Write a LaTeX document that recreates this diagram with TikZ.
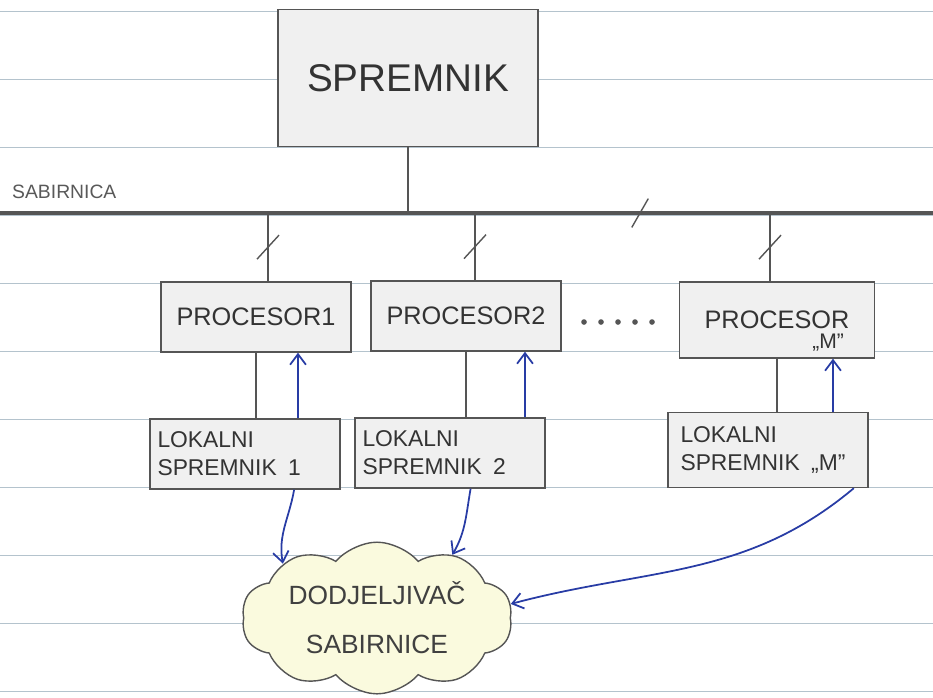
\documentclass[tikz,border=0pt]{standalone}
\usepackage{fontspec}
\setsansfont{Liberation Sans}
\usepackage{tikz}
\usetikzlibrary{shapes,shapes.symbols,arrows,arrows.meta,positioning}
\definecolor{olovka}{RGB}{85,85,85}
\definecolor{plava}{RGB}{40,60,165}
\definecolor{papir}{RGB}{180,195,205}
\definecolor{zuta}{RGB}{250,250,222}
\tikzset{
  blok/.style = {draw=olovka, fill=gray!12, thick, text=black!80,
    inner sep=2pt, font=\sffamily},
  blok_s/.style = {blok, minimum width=5.2cm, minimum height=2.74cm,
    font=\sffamily\fontsize{22}{26}\selectfont},% glavni spremnik
  blok_p/.style = {blok, minimum width=3.8cm, minimum height=1.4cm,
    font=\sffamily\Large},% procesor
  blok_l/.style = {blok, minimum width=3.8cm, minimum height=1.4cm,
    text width=3.5cm, align=left,
    font=\sffamily\fontsize{13}{16}\selectfont},% lokalni spremnik
  oblak/.style = {cloud, cloud puffs=10, cloud puff arc=100,
    cloud ignores aspect, draw=olovka, fill=zuta, thick,
    minimum width=5.4cm, minimum height=2.55cm, align=center,
    text=black!75, font=\sffamily\fontsize{15}{28}\selectfont},% dodjeljivac
  veza/.style = {draw=olovka, thick},
  sab/.style = {draw=olovka, line width=2.8pt},
  strel/.style = {->, draw=plava, line width=1pt},
  crtica/.pic = {\draw[olovka, thick] (-0.22cm,-0.24cm) -- (0.22cm,0.24cm);}
}
\begin{document}
\begin{tikzpicture}[x=0.02cm, y=-0.02cm, >={Straight Barb[length=6pt,width=9pt]}]
  \useasboundingbox (0,0) rectangle (933,697);
  % crte u biljeznici
  \foreach \y in {11,79,...,691}
    \draw[papir, thin] (0,\y) -- (933,\y);

  \node[blok_s] (spr) at (408,78) {SPREMNIK};

  % sabirnica
  \coordinate (busL) at (0,213);
  \coordinate (busR) at (933,213);
  \draw[sab] (busL) -- (busR);
  \node[anchor=south west, font=\sffamily\fontsize{11}{13}\selectfont,
    text=black!65] (sabl) at (6,205) {SABIRNICA};
  \path (busL) -- (busR) pic[pos=0.686, xscale=0.75, yscale=1.2]{crtica};
  \draw[veza] (spr.south) -- (spr.south |- busL);

  % procesori
  \node[blok_p] (pro1) at (256,317) {PROCESOR1};
  \node[blok_p] (pro2) at (466,316) {PROCESOR2};
  \node[blok_p, minimum width=3.9cm, minimum height=1.52cm,
    label={[font=\sffamily\large, text=black!80, anchor=south east,
      xshift=-0.5cm, yshift=1pt]south east:„M”}] (proM) at (777,320) {PROCESOR};
  \foreach \i in {0,...,4}
    \fill[olovka] (584+17*\i,322) circle (1.6pt);

  \foreach \p/\dx in {pro1/0.24cm, pro2/0.18cm, proM/-0.14cm} {
    \coordinate (d\p) at ([xshift=\dx]\p.north);
    \draw[veza] (d\p) -- (d\p |- busL) pic[pos=0.5]{crtica};
  }

  % lokalni spremnici
  \node[blok_l] (lok1) at (245,454) {LOKALNI\\SPREMNIK\enspace 1};
  \node[blok_l] (lok2) at (450,453) {LOKALNI\\SPREMNIK\enspace 2};
  \node[blok_l, minimum width=4cm, minimum height=1.5cm] (lokM) at (768,450)
    {LOKALNI\\SPREMNIK\enspace „M”};

  \foreach \n in {1,2,M}
    \draw[veza] (pro\n.south) -- (pro\n.south |- lok\n.north);
  \foreach \n/\dx in {1/1.06cm, 2/1.5cm, M/1.3cm} {
    \coordinate (a\n) at ([xshift=\dx]lok\n.north);
    \draw[strel] (a\n) -- (a\n |- pro\n.south);
  }

  % dodjeljivac sabirnice
  \node[oblak] (dod) at (377,618) {DODJELJIVAČ\\SABIRNICE};
  \draw[strel] (lok1.-36) to[out=-100, in=100] (dod.150);
  \draw[strel] (lok2.-60) to[out=-100, in=60] (dod.40);
  \draw[strel] (lokM.-24) to[out=-140, in=15] (dod.6);
\end{tikzpicture}
\end{document}
